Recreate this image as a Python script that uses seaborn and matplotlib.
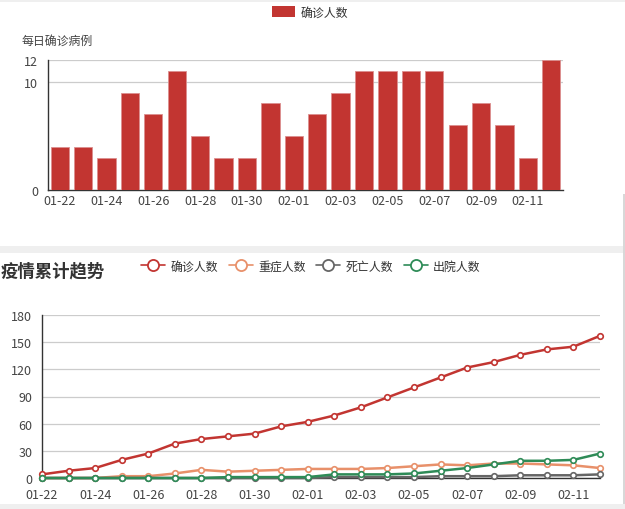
import matplotlib
matplotlib.use("Agg")
from matplotlib import pyplot as plt
from matplotlib.lines import Line2D
from matplotlib.patches import Patch, Rectangle
import seaborn as sns
import pandas as pd

sns.set_style("white")
plt.rcParams['font.family'] = ['Noto Sans CJK SC', 'DejaVu Sans']

# data
dates = ['01-22', '01-23', '01-24', '01-25', '01-26', '01-27', '01-28', '01-29',
         '01-30', '01-31', '02-01', '02-02', '02-03', '02-04', '02-05', '02-06',
         '02-07', '02-08', '02-09', '02-10', '02-11', '02-12']
daily_new = [4, 4, 3, 9, 7, 11, 5, 3, 3, 8, 5, 7, 9, 11, 11, 11, 11, 6, 8, 6, 3, 12]
confirmed = [4, 8, 11, 20, 27, 38, 43, 46, 49, 57, 62, 69, 78, 89, 100, 111,
             122, 128, 136, 142, 145, 157]
severe = [0, 0, 0, 2, 2, 5, 9, 7, 8, 9, 10, 10, 10, 11, 13, 15, 14, 16, 16, 15, 14, 11]
dead = [0, 0, 0, 0, 0, 0, 0, 0, 0, 0, 0, 1, 1, 1, 1, 2, 2, 2, 3, 3, 3, 4]
cured = [0, 0, 0, 0, 0, 0, 0, 1, 1, 1, 1, 4, 4, 4, 5, 8, 11, 15, 19, 19, 20, 27]

series_names = ['确诊人数', '重症人数', '死亡人数', '出院人数']
series_colors = ['#c23531', '#e8906a', '#666666', '#2e8b57']

df = pd.DataFrame({'day': dates, 'new': daily_new, '确诊人数': confirmed,
                   '重症人数': severe, '死亡人数': dead, '出院人数': cured})

W, H = 625, 510
fig = plt.figure(figsize=(W / 100, H / 100), dpi=100)
fig.patch.set_facecolor('white')


def px_axes(left, top, right, bottom):
    return fig.add_axes([left / W, 1 - bottom / H, (right - left) / W, (bottom - top) / H])


# page decorations (light grey bands of the web page)
for y0, y1 in [(0, 3), (247, 254), (505, 510)]:
    fig.patches.append(Rectangle((0, 1 - y1 / H), 1, (y1 - y0) / H, transform=fig.transFigure,
                                 facecolor='#efefef', edgecolor='none', zorder=0))
fig.patches.append(Rectangle((623 / W, 1 - 505 / H), 1.5 / W, 310 / H, transform=fig.transFigure,
                             facecolor='#d8d8d8', edgecolor='none', zorder=0))

axis_color = '#333333'
grid_color = '#cccccc'

# ---- top: daily new cases ----
ax1 = px_axes(48, 61, 563, 191)
sns.barplot(data=df, x='day', y='new', color=series_colors[0], saturation=1,
            width=0.78, edgecolor='#dc8f8f', linewidth=0.6, ax=ax1, zorder=3)
ax1.set_xlim(-0.5, len(dates) - 0.5)
ax1.set_ylim(0, 12)
ax1.set_yticks([0, 10, 12])
for v in [10, 12]:
    ax1.axhline(v, color=grid_color, lw=0.9, zorder=1)
ax1.set_xticks([i - 0.5 for i in range(0, len(dates) + 1, 2)], labels=[])
ax1.set_xticks(range(0, len(dates), 2), labels=dates[::2], minor=True)
ax1.tick_params(axis='x', which='major', length=5, width=1, color=axis_color, direction='out')
ax1.tick_params(axis='x', which='minor', length=0, labelsize=9, labelcolor='#444444', pad=3)
ax1.tick_params(axis='y', length=5, width=1, color=axis_color, direction='out',
                labelsize=9, labelcolor='#444444', pad=2)
ax1.set_xlabel('')
ax1.set_ylabel('')
for s in ['top', 'right']:
    ax1.spines[s].set_visible(False)
for s in ['left', 'bottom']:
    ax1.spines[s].set_color(axis_color)
    ax1.spines[s].set_linewidth(1)
fig.text(22 / W, 1 - 41 / H, '每日确诊病例', fontsize=8.6, color='#444444', va='center', ha='left')
fig.legend(handles=[Patch(facecolor=series_colors[0], edgecolor='none')], labels=['确诊人数'],
           loc='center', bbox_to_anchor=(310 / W, 1 - 13 / H), frameon=False, fontsize=8.6,
           handlelength=1.9, handleheight=1.1, handletextpad=0.5, labelcolor='#333333')

# ---- bottom: cumulative trend ----
ax2 = px_axes(42, 316, 600, 479)
handles = []
for name, color in zip(series_names, series_colors):
    sns.lineplot(data=df, x='day', y=name, color=color, lw=1.8, marker='o', markersize=4,
                 markerfacecolor='white', markeredgecolor=color, markeredgewidth=1.2,
                 sort=False, ax=ax2, zorder=3)
    handles.append(Line2D([0], [0], color=color, lw=1.2, marker='o', markersize=8,
                          markerfacecolor='white', markeredgecolor=color, markeredgewidth=1.3))
for line in ax2.lines:
    line.set_clip_on(False)
ax2.set_xlim(0, len(dates) - 1)
ax2.set_ylim(0, 180)
ax2.set_yticks(range(0, 181, 30))
ax2.yaxis.grid(True, color=grid_color, lw=0.9)
ax2.set_axisbelow(True)
ax2.set_xticks(range(0, len(dates), 2), labels=dates[::2])
ax2.tick_params(axis='x', length=5, width=1, color=axis_color, direction='out',
                labelsize=9, labelcolor='#444444', pad=2)
ax2.tick_params(axis='y', length=5, width=1, color=axis_color, direction='out',
                labelsize=9, labelcolor='#444444', pad=2)
ax2.set_xlabel('')
ax2.set_ylabel('')
for s in ['top', 'right']:
    ax2.spines[s].set_visible(False)
for s in ['left', 'bottom']:
    ax2.spines[s].set_color(axis_color)
    ax2.spines[s].set_linewidth(1)
if ax2.get_legend() is not None:
    ax2.get_legend().remove()

fig.text(1 / W, 1 - 271 / H, '疫情累计趋势', fontsize=12.5, fontweight='bold', color='#333333',
         va='center', ha='left')
fig.legend(handles=handles, labels=series_names, loc='center', ncol=4,
           bbox_to_anchor=(311 / W, 1 - 267 / H), frameon=False, fontsize=8.6,
           handlelength=2.0, handletextpad=0.45, columnspacing=0.9, labelcolor='#333333')

fig.savefig('out.png', dpi=100)
